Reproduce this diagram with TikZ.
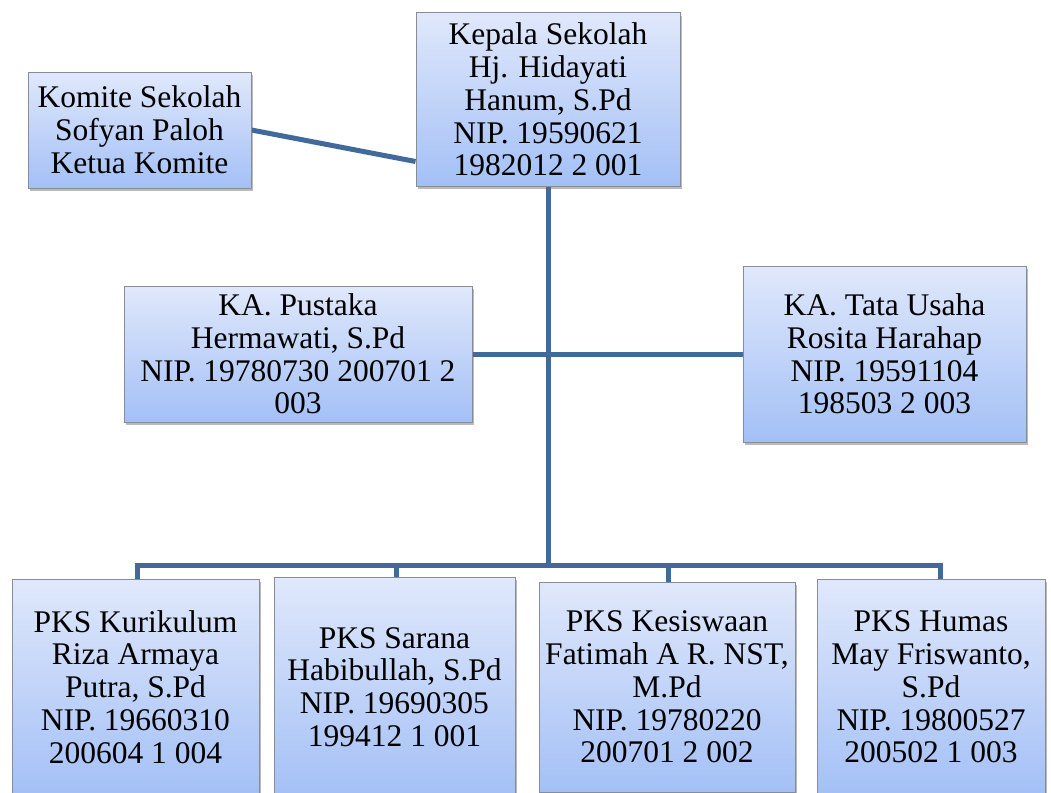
\documentclass[tikz,border=0pt]{standalone}
\usepackage{fontspec}
\setmainfont{Liberation Serif}
\usetikzlibrary{shadows,backgrounds,calc}
\definecolor{linec}{RGB}{65,105,155}
\definecolor{topc}{RGB}{224,232,251}
\definecolor{botc}{RGB}{163,192,246}
\definecolor{borderc}{RGB}{135,140,150}
\tikzset{
  orgbox/.style={rectangle, draw=borderc, line width=1pt, top color=topc, bottom color=botc,
    align=center, inner sep=2pt, font=\fontsize{31.5}{32.8}\selectfont,
    drop shadow={shadow xshift=2pt, shadow yshift=-3pt, opacity=0.45, fill=black!60}},
  conn/.style={draw=linec, line width=5pt}
}
\begin{document}
\begin{tikzpicture}[x=1pt,y=-1pt]
\useasboundingbox (0,0) rectangle (1051,792);
\node[orgbox, minimum width=264pt, minimum height=173pt] (kepala) at (548,99.5)
  {Kepala Sekolah\\Hj. Hidayati\\Hanum, S.Pd\\NIP. 19590621\\1982012 2 001};
\node[orgbox, minimum width=223pt, minimum height=116pt] (komite) at (139.5,130)
  {Komite Sekolah\\Sofyan Paloh\\Ketua Komite};
\node[orgbox, minimum width=348pt, minimum height=136pt] (pustaka) at (298,354)
  {KA. Pustaka\\Hermawati, S.Pd\\NIP. 19780730 200701 2\\003};
\node[orgbox, minimum width=283pt, minimum height=176pt] (tu) at (884.5,354)
  {KA. Tata Usaha\\Rosita Harahap\\NIP. 19591104\\198503 2 003};
\node[orgbox, minimum width=247pt, minimum height=216pt] (kur) at (135.5,687)
  {PKS Kurikulum\\Riza Armaya\\Putra, S.Pd\\NIP. 19660310\\200604 1 004};
\node[orgbox, minimum width=241pt, minimum height=220pt] (sarana) at (394.5,687)
  {PKS Sarana\\Habibullah, S.Pd\\NIP. 19690305\\199412 1 001};
\node[orgbox, minimum width=256pt, minimum height=210pt] (kes) at (667,687)
  {PKS Kesiswaan\\Fatimah A R. NST,\\M.Pd\\NIP. 19780220\\200701 2 002};
\node[orgbox, minimum width=228pt, minimum height=216pt] (humas) at (931,687)
  {PKS Humas\\May Friswanto,\\S.Pd\\NIP. 19800527\\200502 1 003};
\coordinate (bus) at (548,565);
\begin{scope}[on background layer]
\draw[conn] (komite.east) -- ([yshift=-62pt]kepala.west);
\draw[conn] (kepala.south) -- (bus);
\draw[conn] (pustaka.east) -- (tu.west);
\draw[conn] ([xshift=1.5pt]kur.north) |- (bus);
\draw[conn] ([xshift=1.5pt]sarana.north) |- (bus);
\draw[conn] ([xshift=1pt]kes.north) |- (bus);
\draw[conn] ([xshift=9pt]humas.north) |- (bus);
\end{scope}
\end{tikzpicture}
\end{document}
